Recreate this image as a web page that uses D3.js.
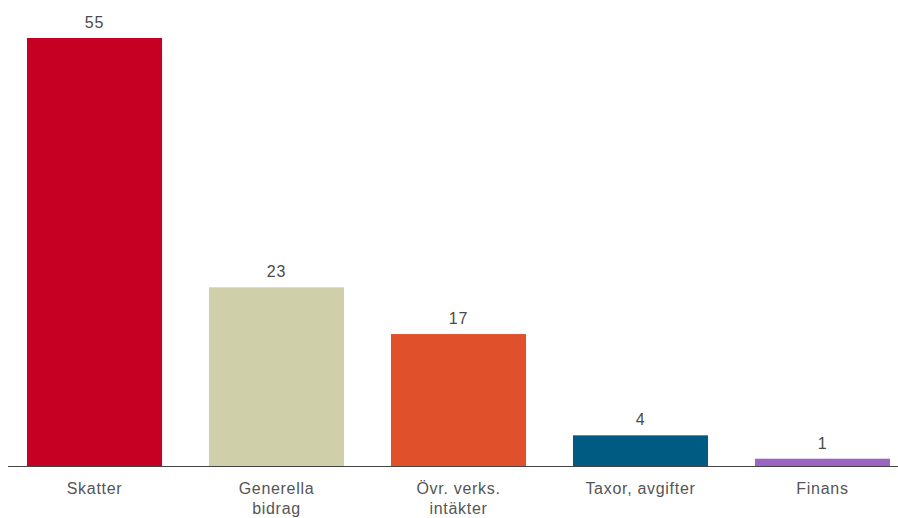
<!DOCTYPE html>
<html>
<head>
<meta charset="utf-8">
<script src="https://cdn.jsdelivr.net/npm/d3@7"></script>
<style>
  body { margin: 0; background: #fff; }
  text { font-family: "Liberation Sans", Arial, sans-serif; }
</style>
</head>
<body>
<div id="chart"></div>
<script>
const categories = [['Skatter'], ['Generella', 'bidrag'], ['Övr. verks.', 'intäkter'], ['Taxor, avgifter'], ['Finans']];
const values = [55, 23, 17, 4, 1];
const colors = ['#c50023', '#cfd0aa', '#e0502a', '#005b82', '#9a66c2'];

const width = 898;
const height = 518;
const baseY = 466.5;

const svg = d3.select('#chart')
	.append('svg')
	.attr('width', width)
	.attr('height', height);

const x = d3.scaleBand()
	.domain(d3.range(values.length))
	.range([27, 890])
	.paddingInner(0.258)
	.paddingOuter(0);

const y = d3.scaleLinear()
	.domain([0, 55])
	.range([baseY, 38]);

svg.selectAll('rect.bar')
	.data(values)
	.enter()
	.append('rect')
	.attr('class', 'bar')
	.attr('x', (d, i) => x(i))
	.attr('y', d => y(d))
	.attr('width', x.bandwidth())
	.attr('height', d => baseY - y(d))
	.attr('fill', (d, i) => colors[i]);

// value labels above bars
svg.selectAll('text.val')
	.data(values)
	.enter()
	.append('text')
	.attr('class', 'val')
	.attr('x', (d, i) => x(i) + x.bandwidth() / 2)
	.attr('y', d => y(d) - 10)
	.attr('text-anchor', 'middle')
	.style('font-size', '16px')
	.style('letter-spacing', '0.8px')
	.style('fill', '#4a4a4a')
	.text(d => d);

// baseline
svg.append('line')
	.attr('x1', 8)
	.attr('x2', width)
	.attr('y1', baseY)
	.attr('y2', baseY)
	.attr('stroke', '#444')
	.attr('stroke-width', 1.2);

// category labels
const lab = svg.selectAll('text.cat')
	.data(categories)
	.enter()
	.append('text')
	.attr('class', 'cat')
	.attr('text-anchor', 'middle')
	.style('font-size', '16px')
	.style('letter-spacing', '0.7px')
	.style('fill', '#555');

lab.selectAll('tspan')
	.data((d, i) => d.map(t => ({ t: t, i: i })))
	.enter()
	.append('tspan')
	.attr('x', d => x(d.i) + x.bandwidth() / 2)
	.attr('y', (d, j) => 494 + j * 20)
	.text(d => d.t);
</script>
</body>
</html>
